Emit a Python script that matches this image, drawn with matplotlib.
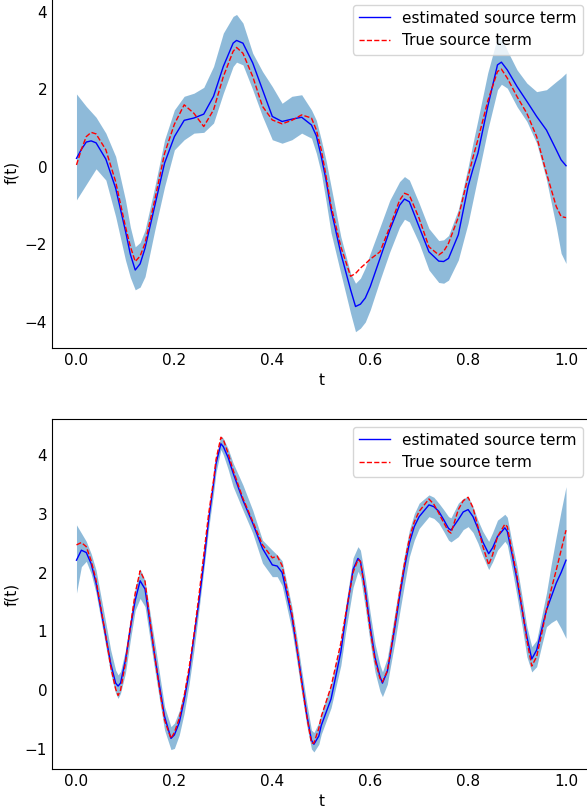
import numpy as np
import matplotlib.pyplot as plt

plt.rcParams['font.size'] = 11

# top panel
t_top = [0.00, 0.01, 0.02, 0.03, 0.04, 0.06, 0.08, 0.10, 0.11, 0.12, 0.13, 0.14,
         0.16, 0.18, 0.20, 0.22, 0.24, 0.26, 0.28, 0.30, 0.32, 0.327, 0.34, 0.36,
         0.38, 0.40, 0.42, 0.44, 0.46, 0.48, 0.49, 0.50, 0.51, 0.52, 0.54, 0.56,
         0.57, 0.58, 0.59, 0.60, 0.62, 0.64, 0.66, 0.67, 0.68, 0.70, 0.72, 0.74,
         0.75, 0.76, 0.78, 0.80, 0.81, 0.82, 0.84, 0.86, 0.868, 0.88, 0.90, 0.92,
         0.94, 0.96, 0.98, 0.99, 1.00]
est_top = [0.22, 0.45, 0.64, 0.67, 0.62, 0.20, -0.55, -1.65, -2.25, -2.66, -2.50, -2.10,
           -1.00, 0.10, 0.78, 1.20, 1.26, 1.36, 1.82, 2.59, 3.19, 3.26, 3.19, 2.68,
           1.99, 1.30, 1.17, 1.23, 1.28, 1.08, 0.80, 0.27, -0.35, -1.10, -2.23, -3.17,
           -3.60, -3.54, -3.38, -3.09, -2.36, -1.63, -0.99, -0.83, -0.90, -1.55, -2.19, -2.43,
           -2.44, -2.36, -1.75, -0.50, -0.05, 0.35, 1.55, 2.63, 2.70, 2.50, 2.07, 1.69,
           1.30, 0.95, 0.44, 0.18, 0.03]
true_top = [0.05, 0.45, 0.78, 0.89, 0.85, 0.44, -0.38, -1.54, -2.05, -2.44, -2.30, -1.97,
            -0.85, 0.35, 1.10, 1.60, 1.38, 1.04, 1.47, 2.33, 2.98, 3.08, 2.93, 2.33,
            1.56, 1.21, 1.11, 1.20, 1.34, 1.26, 0.95, 0.44, -0.25, -1.00, -2.06, -2.82,
            -2.75, -2.61, -2.50, -2.38, -2.19, -1.55, -0.86, -0.68, -0.73, -1.33, -2.06, -2.27,
            -2.18, -1.97, -1.30, -0.25, 0.25, 0.70, 1.69, 2.46, 2.52, 2.29, 1.81, 1.38,
            0.78, -0.16, -1.02, -1.28, -1.31]
lo_top = [-0.85, -0.65, -0.45, -0.25, -0.05, -0.34, -1.28, -2.40, -2.85, -3.17, -3.10, -2.83,
          -1.63, -0.51, 0.44, 0.70, 0.87, 0.89, 1.13, 1.90, 2.59, 2.70, 2.63, 1.99,
          1.30, 0.70, 0.61, 0.70, 0.87, 0.74, 0.35, -0.16, -0.90, -1.70, -2.75, -3.78,
          -4.25, -4.16, -4.00, -3.69, -2.92, -2.19, -1.55, -1.35, -1.42, -1.97, -2.66, -2.98,
          -3.00, -2.92, -2.40, -1.45, -0.85, -0.25, 0.95, 1.99, 2.13, 2.03, 1.55, 1.17,
          0.61, -0.33, -1.54, -2.23, -2.49]
hi_top = [1.88, 1.72, 1.56, 1.42, 1.28, 0.87, 0.27, -0.85, -1.55, -2.06, -1.95, -1.63,
          -0.51, 0.70, 1.47, 1.82, 1.90, 2.05, 2.59, 3.45, 3.88, 3.93, 3.71, 2.93,
          2.46, 2.07, 1.64, 1.82, 1.86, 1.47, 1.20, 0.70, 0.15, -0.50, -1.80, -2.75,
          -3.00, -2.87, -2.60, -2.23, -1.55, -0.86, -0.38, -0.25, -0.34, -0.94, -1.59, -1.90,
          -1.88, -1.77, -1.10, 0.00, 0.62, 1.21, 2.42, 3.35, 3.35, 3.00, 2.50, 2.16,
          1.94, 1.99, 2.20, 2.30, 2.42]

# bottom panel
t_bot = [0.00, 0.01, 0.02, 0.03, 0.04, 0.06, 0.07, 0.08, 0.085, 0.09, 0.10, 0.11,
         0.12, 0.13, 0.14, 0.15, 0.16, 0.17, 0.18, 0.193, 0.20, 0.21, 0.22, 0.23,
         0.24, 0.25, 0.26, 0.27, 0.28, 0.285, 0.295, 0.30, 0.31, 0.32, 0.34, 0.36,
         0.38, 0.40, 0.41, 0.42, 0.44, 0.45, 0.46, 0.47, 0.48, 0.485, 0.495, 0.50,
         0.52, 0.54, 0.55, 0.565, 0.575, 0.58, 0.59, 0.60, 0.61, 0.62, 0.625, 0.635,
         0.64, 0.65, 0.66, 0.67, 0.68, 0.69, 0.70, 0.72, 0.73, 0.74, 0.75, 0.76,
         0.765, 0.78, 0.79, 0.80, 0.81, 0.82, 0.83, 0.842, 0.85, 0.86, 0.875, 0.88,
         0.89, 0.90, 0.91, 0.92, 0.93, 0.94, 0.95, 0.96, 0.97, 0.98, 0.99, 1.00]
est_bot = [2.21, 2.38, 2.34, 2.15, 1.82, 0.91, 0.45, 0.12, 0.07, 0.12, 0.51, 1.05,
           1.53, 1.86, 1.72, 1.15, 0.57, 0.05, -0.45, -0.82, -0.76, -0.55, -0.17, 0.30,
           0.91, 1.50, 2.16, 2.90, 3.52, 3.85, 4.19, 4.14, 3.95, 3.69, 3.23, 2.84,
           2.41, 2.13, 2.11, 2.00, 1.25, 0.72, 0.17, -0.40, -0.85, -0.92, -0.78, -0.60,
           -0.15, 0.65, 1.25, 2.05, 2.24, 2.19, 1.70, 1.08, 0.55, 0.23, 0.12, 0.32,
           0.55, 1.05, 1.59, 2.08, 2.50, 2.78, 2.95, 3.15, 3.12, 3.04, 2.90, 2.75,
           2.72, 2.90, 3.03, 3.07, 2.95, 2.75, 2.52, 2.32, 2.42, 2.61, 2.76, 2.70,
           2.30, 1.87, 1.38, 0.91, 0.53, 0.68, 1.02, 1.36, 1.59, 1.82, 2.00, 2.21]
true_bot = [2.47, 2.51, 2.44, 2.20, 1.87, 0.91, 0.40, 0.02, -0.09, 0.00, 0.46, 1.08,
            1.65, 2.03, 1.85, 1.20, 0.57, 0.00, -0.51, -0.82, -0.72, -0.48, -0.10, 0.38,
            0.95, 1.60, 2.30, 3.00, 3.57, 3.92, 4.30, 4.26, 4.02, 3.74, 3.26, 2.87,
            2.47, 2.25, 2.28, 2.12, 1.31, 0.75, 0.12, -0.42, -0.90, -0.90, -0.65, -0.45,
            0.06, 0.80, 1.30, 2.00, 2.22, 2.19, 1.65, 1.02, 0.50, 0.20, 0.14, 0.33,
            0.57, 1.10, 1.65, 2.15, 2.58, 2.86, 3.04, 3.25, 3.16, 3.01, 2.85, 2.70,
            2.67, 3.07, 3.22, 3.28, 3.10, 2.78, 2.45, 2.13, 2.30, 2.61, 2.82, 2.78,
            2.35, 1.93, 1.40, 0.85, 0.41, 0.57, 0.95, 1.36, 1.72, 2.04, 2.38, 2.72]
lo_bot = [1.65, 2.10, 2.19, 1.98, 1.65, 0.74, 0.28, -0.05, -0.14, -0.05, 0.29, 0.85,
          1.36, 1.56, 1.42, 0.88, 0.34, -0.18, -0.68, -1.01, -0.99, -0.76, -0.39, 0.10,
          0.68, 1.35, 2.04, 2.75, 3.35, 3.70, 4.09, 4.00, 3.75, 3.46, 3.06, 2.67,
          2.16, 1.93, 1.93, 1.78, 1.02, 0.50, -0.05, -0.58, -1.00, -1.05, -0.92, -0.75,
          -0.30, 0.42, 1.00, 1.75, 2.02, 1.93, 1.40, 0.80, 0.30, -0.02, -0.11, 0.10,
          0.34, 0.80, 1.31, 1.80, 2.27, 2.55, 2.75, 2.95, 2.92, 2.84, 2.70, 2.55,
          2.52, 2.61, 2.73, 2.78, 2.68, 2.50, 2.28, 2.05, 2.18, 2.38, 2.53, 2.47,
          2.05, 1.59, 1.10, 0.57, 0.31, 0.40, 0.75, 1.08, 1.15, 1.20, 1.05, 0.88]
hi_bot = [2.81, 2.67, 2.53, 2.32, 2.04, 1.14, 0.68, 0.34, 0.26, 0.32, 0.68, 1.22,
          1.73, 2.06, 1.87, 1.33, 0.80, 0.26, -0.28, -0.62, -0.56, -0.35, 0.00, 0.45,
          1.02, 1.70, 2.38, 3.05, 3.63, 3.98, 4.32, 4.28, 4.10, 3.86, 3.49, 3.06,
          2.55, 2.38, 2.30, 2.20, 1.42, 0.90, 0.34, -0.20, -0.68, -0.72, -0.55, -0.39,
          0.10, 0.85, 1.45, 2.25, 2.44, 2.38, 1.90, 1.31, 0.78, 0.43, 0.31, 0.55,
          0.80, 1.30, 1.82, 2.30, 2.72, 3.00, 3.18, 3.32, 3.28, 3.18, 3.07, 2.95,
          2.93, 3.18, 3.26, 3.29, 3.12, 2.89, 2.70, 2.53, 2.68, 2.89, 2.99, 2.94,
          2.50, 2.10, 1.60, 1.08, 0.74, 0.85, 1.25, 1.65, 2.15, 2.61, 3.05, 3.46]

W, H = 587, 809
fig = plt.figure(figsize=(W / 100, H / 100), dpi=100)

ax1 = fig.add_axes([52 / W, (H - 348) / H, 538.5 / W, 351 / H])
ax2 = fig.add_axes([52 / W, (H - 769) / H, 538.5 / W, 350 / H])

panels = [(ax1, t_top, est_top, true_top, lo_top, hi_top, (-4.67, 4.38)),
          (ax2, t_bot, est_bot, true_bot, lo_bot, hi_bot, (-1.34, 4.61))]

for ax, t, est, tru, lo, hi, ylim in panels:
    ax.fill_between(t, lo, hi, color='C0', alpha=0.5, linewidth=0)
    ax.plot(t, est, 'b-', lw=1, label='estimated source term')
    ax.plot(t, tru, 'r--', lw=1, label='True source term')
    ax.set_xlim(-0.05, 1.05)
    ax.set_ylim(*ylim)
    ax.tick_params(length=0)
    ax.set_xlabel('t')
    ax.set_ylabel('f(t)')
    ax.legend(loc='upper right')

fig.savefig('out.png', dpi=100)
